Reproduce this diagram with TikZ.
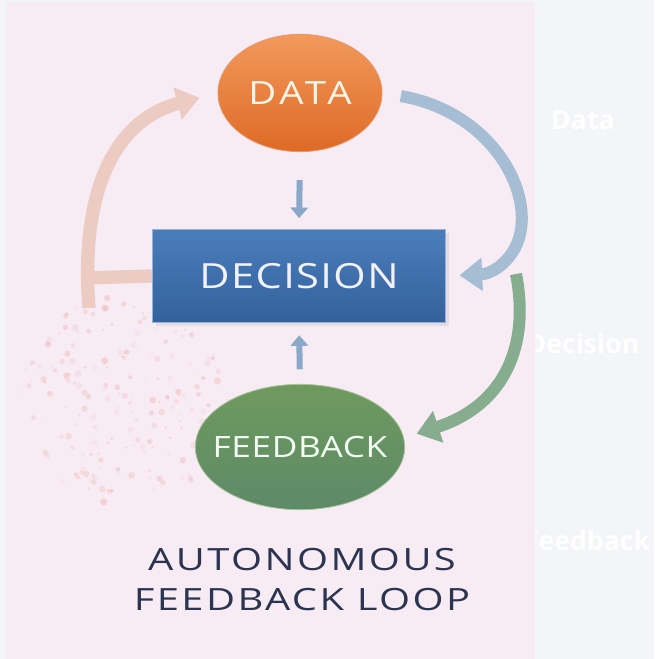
\documentclass[tikz,border=0pt]{standalone}
\usepackage{fontspec}
\setmainfont{Open Sans}
\newfontfamily\widesans{Open Sans}[FakeStretch=1.2]
\newfontfamily\titlesans{Open Sans}[FakeStretch=1.3]
\usetikzlibrary{arrows.meta,positioning,shapes.geometric,shadows}

\definecolor{pagebg}{HTML}{F4F5F9}
\definecolor{panelbg}{HTML}{F8ECF4}
\definecolor{datatop}{HTML}{F29A5C}
\definecolor{databot}{HTML}{DE6A26}
\definecolor{dectop}{HTML}{4A7EBB}
\definecolor{decbot}{HTML}{34619D}
\definecolor{fbtop}{HTML}{6F9A5E}
\definecolor{fbbot}{HTML}{5D8A68}
\definecolor{titleink}{HTML}{2B3450}
\definecolor{bluearrow}{HTML}{A6BED4}
\definecolor{greenarrow}{HTML}{86AE8E}
\definecolor{peacharrow}{HTML}{EBCBC2}
\definecolor{smallarrow}{HTML}{8AA9C9}
\definecolor{speck}{HTML}{EBA6A2}

\begin{document}
\begin{tikzpicture}[x=0.75pt,y=-0.75pt,
    datanode/.style = {ellipse, minimum width=123pt, minimum height=88pt, inner xsep=-14pt,
      top color=datatop, bottom color=databot, draw=databot!70!white, line width=0.6pt,
      text=white!92!orange,
      font=\widesans\addfontfeatures{LetterSpace=12}\fontsize{24}{28}\selectfont},
    decbox/.style = {rectangle, minimum width=220pt, minimum height=70pt,
      top color=dectop, bottom color=decbot, draw=dectop!60!white, line width=0.8pt,
      drop shadow={opacity=0.15}, text=white!95!blue,
      font=\widesans\addfontfeatures{LetterSpace=4}\fontsize{26}{30}\selectfont},
    fbnode/.style = {ellipse, minimum width=157pt, minimum height=94pt, inner xsep=-12pt,
      top color=fbtop, bottom color=fbbot, draw=fbtop!60!white, line width=0.6pt,
      text=white!95!green,
      font=\widesans\addfontfeatures{LetterSpace=2}\fontsize{22}{26}\selectfont},
    ghost/.style = {text=white, font=\bfseries\fontsize{20}{24}\selectfont},
    bigflow/.style = {line width=9pt, -{Triangle[length=17pt,width=24pt]}},
    thinflow/.style = {line width=4.5pt, draw=smallarrow, -{Triangle[length=8pt,width=13pt]}}
  ]
  \useasboundingbox (0,0) rectangle (654,659);
  \fill[pagebg] (0,0) rectangle (654,659);

  % faint labels behind the panel
  \node[ghost] (gdata) at (583,120) {Data};
  \node[ghost] (gdecision) at (583,343) {Decision};
  \node[ghost] (gfeedback) at (587,540) {Feedback};

  \fill[panelbg] (6,2) rectangle (535,659);

  % specks on the lower left
  \pgfmathsetseed{11}
  \foreach \i in {1,...,200} {
    \pgfmathsetmacro{\ang}{360*rnd}
    \pgfmathsetmacro{\rad}{105*sqrt(rnd)}
    \pgfmathsetmacro{\sz}{1.2+2.4*rnd}
    \pgfmathsetmacro{\op}{0.08+0.3*rnd}
    \fill[speck, opacity=\op] ({125+1.05*\rad*cos(\ang)},{400+\rad*sin(\ang)}) circle (\sz);
  }

  \node[datanode] (data) at (300,93) {DATA};
  \node[decbox] (decision) at (299,276) {DECISION};
  \node[fbnode] (feedback) at (300,447) {FEEDBACK};
  \node[text=titleink, align=center,
    font=\titlesans\addfontfeatures{LetterSpace=8}\fontsize{23}{30}\selectfont] (title) at (302,580)
    {AUTONOMOUS\\FEEDBACK LOOP};

  \coordinate (branch) at (516,274);
  \coordinate (junction) at (84,278);
  \coordinate (foot) at (89,308);

  % big loop arrows
  \draw[bigflow, draw=bluearrow, shorten <=14pt, shorten >=10pt]
    (data.east) .. controls (495,112) and (540,200) .. (515,248)
    .. controls (505,266) and (490,274) .. (decision.east);
  \draw[bigflow, draw=greenarrow, shorten >=10pt]
    (branch) .. controls (530,345) and (505,405) .. (feedback.5);
  \draw[line width=10pt, draw=peacharrow] (decision.west) -- (junction);
  \draw[bigflow, line width=10pt, draw=peacharrow, shorten >=14pt]
    (foot) .. controls (80,190) and (115,120) .. (data.west);

  % short arrows into the box
  \draw[thinflow, shorten <=21pt, shorten >=8pt] (data.south) -- (decision.north);
  \draw[thinflow, shorten <=11pt, shorten >=9pt] (feedback.north) -- (decision.south);
\end{tikzpicture}
\end{document}
